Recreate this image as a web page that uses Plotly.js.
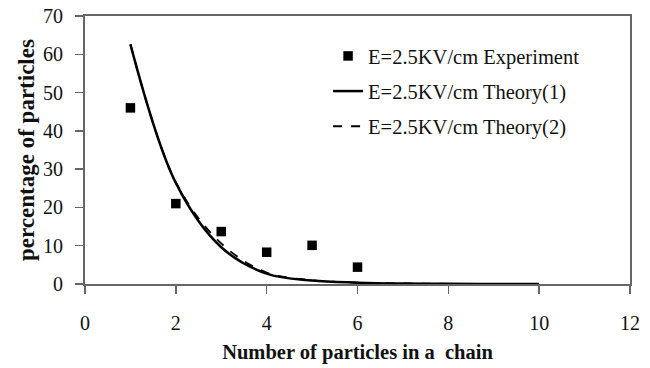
<!DOCTYPE html>
<html>
<head>
<meta charset="utf-8">
<script src="https://cdn.plot.ly/plotly-3.0.1.min.js"></script>
<style>html,body{margin:0;padding:0;background:#fff;}#chart{width:650px;height:368px;}</style>
</head>
<body>
<div id="chart"></div>
<script>
var expX = [1, 2, 3, 4, 5, 6];
var expY = [46, 21, 13.7, 8.3, 10.1, 4.4];
var theoryX = [1, 2, 3, 4, 5, 6, 7, 8, 9, 10];
var theory1Y = [62.6, 26.4, 9.6, 2.7, 0.9, 0.35, 0.12, 0.05, 0.02, 0.01];
var theory2Y = [62.6, 26.6, 10.6, 3.0, 1.0, 0.38, 0.13, 0.05, 0.02, 0.01];
var names = ['E=2.5KV/cm Experiment', 'E=2.5KV/cm Theory(1)', 'E=2.5KV/cm Theory(2)'];

var serif = 'Liberation Serif, Times New Roman, serif';
var traces = [
  {x: expX, y: expY, name: names[0], mode: 'markers', type: 'scatter', legendgroup: 'a',
   marker: {symbol: 'square', size: 9.5, color: '#000'}},
  {x: theoryX, y: theory1Y, name: names[1], mode: 'lines', type: 'scatter', legendgroup: 'b',
   line: {color: '#000', width: 2.5, shape: 'spline'}},
  {x: theoryX, y: theory2Y, name: names[2], mode: 'lines', type: 'scatter', legendgroup: 'c',
   line: {color: '#000', width: 1.8, dash: 'dash', shape: 'spline'}}
];
var layout = {
  width: 650, height: 368,
  margin: {l: 85, r: 20, t: 16, b: 84},
  paper_bgcolor: '#fff', plot_bgcolor: '#fff',
  font: {family: serif, color: '#111', size: 18},
  showlegend: true,
  legend: {x: 0.446, y: 0.925, xanchor: 'left', yanchor: 'top', bgcolor: 'rgba(0,0,0,0)',
    font: {family: serif, size: 20.5, color: '#111'}, tracegroupgap: 5.5, traceorder: 'grouped'},
  xaxis: {range: [0, 12], dtick: 2, tick0: 0, showgrid: false, zeroline: false,
    showline: true, linecolor: '#666', linewidth: 2, mirror: true,
    ticks: 'outside', ticklen: 8, tickwidth: 1.5, tickcolor: '#666', ticklabelstandoff: 12,
    tickfont: {family: serif, size: 20, color: '#111'},
    title: {text: '<b>Number of particles in a  chain</b>', font: {family: serif, size: 20.5, color: '#111'}, standoff: 12}},
  yaxis: {range: [0, 70], dtick: 10, tick0: 0, showgrid: false, zeroline: false,
    showline: true, linecolor: '#666', linewidth: 2, mirror: true,
    ticks: 'outside', ticklen: 8, tickwidth: 1.5, tickcolor: '#666', ticklabelstandoff: 8,
    tickfont: {family: serif, size: 20, color: '#111'},
    title: {text: '<b>percentage of particles</b>', font: {family: serif, size: 23, color: '#111'}, standoff: 2}}
};
Plotly.newPlot('chart', traces, layout, {displayModeBar: false, staticPlot: true});
</script>
</body>
</html>
